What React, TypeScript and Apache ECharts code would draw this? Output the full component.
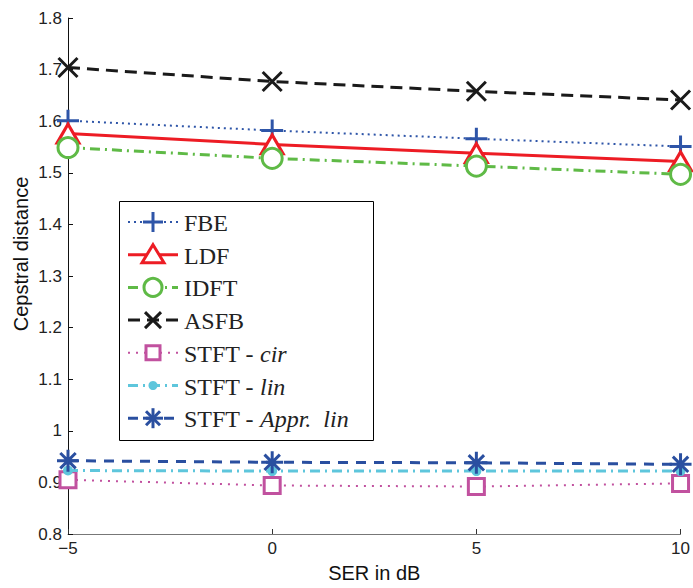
import React, { useEffect, useRef } from "react";
import * as echarts from "echarts";

// ---- data ----
const xValues = [-5, 0, 5, 10];
const fbe = [1.601, 1.582, 1.566, 1.551];
const ldf = [1.576, 1.555, 1.538, 1.522];
const idft = [1.549, 1.528, 1.513, 1.497];
const asfb = [1.704, 1.677, 1.658, 1.641];
const stftCir = [0.905, 0.894, 0.892, 0.898];
const stftLin = [0.923, 0.922, 0.922, 0.922];
const stftAppr = [0.942, 0.939, 0.938, 0.935];
const seriesNames = ["FBE", "LDF", "IDFT", "ASFB", "STFT - cir", "STFT - lin", "STFT - Appr. lin"];
const legendLabels = ["FBE", "LDF", "IDFT", "ASFB", "STFT - {i|cir}", "STFT - {i|lin}", "STFT - {i|Appr.  lin}"];
const seriesValues = [fbe, ldf, idft, asfb, stftCir, stftLin, stftAppr];
const xAxisTitle = "SER in dB";
const yAxisTitle = "Cepstral distance";

// ---- styles ----
type Sty = { color: string; dash: number[] | null; width: number; marker: string; size: number | number[] };
const styles: Sty[] = [
  { color: "#2e55a8", dash: [2, 4], width: 2, marker: "plus", size: 22 },
  { color: "#ed1c24", dash: null, width: 3, marker: "tri", size: [22, 19] },
  { color: "#5fba46", dash: [10, 5, 2, 5], width: 3, marker: "circle", size: 20 },
  { color: "#1a1a1a", dash: [12, 7], width: 3, marker: "cross", size: 19 },
  { color: "#c1519f", dash: [2, 6], width: 2, marker: "square", size: 16 },
  { color: "#5ec6dc", dash: [10, 5, 2, 5], width: 3, marker: "dot", size: 10 },
  { color: "#2a4fa0", dash: [10, 8], width: 3, marker: "star", size: 22 },
];

const symbolFor: Record<string, string> = {
  plus: "path://M10 0L10 20M0 10L20 10",
  cross: "path://M0 0L20 20M0 20L20 0",
  star: "path://M10 0L10 20M0 10L20 10M3 3L17 17M3 17L17 3",
  tri: "path://M10 0L20 18L0 18Z",
  circle: "circle",
  square: "rect",
  dot: "circle",
};

function markerGraphic(kind: string, cx: number, cy: number, color: string): any[] {
  const st = { stroke: color, lineWidth: 3, fill: "#fff" };
  const ln = (x1: number, y1: number, x2: number, y2: number) => ({
    type: "line",
    shape: { x1, y1, x2, y2 },
    style: { stroke: color, lineWidth: 3 },
    z: 101,
  });
  switch (kind) {
    case "plus":
      return [ln(cx - 10, cy, cx + 10, cy), ln(cx, cy - 10, cx, cy + 10)];
    case "cross":
      return [ln(cx - 8, cy - 8, cx + 8, cy + 8), ln(cx - 8, cy + 8, cx + 8, cy - 8)];
    case "star":
      return [
        ln(cx - 10, cy, cx + 10, cy),
        ln(cx, cy - 10, cx, cy + 10),
        ln(cx - 7, cy - 7, cx + 7, cy + 7),
        ln(cx - 7, cy + 7, cx + 7, cy - 7),
      ];
    case "tri":
      return [{ type: "polygon", shape: { points: [[cx, cy - 10], [cx + 11, cy + 8], [cx - 11, cy + 8]] }, style: st, z: 101 }];
    case "circle":
      return [{ type: "circle", shape: { cx, cy, r: 9 }, style: st, z: 101 }];
    case "square":
      return [{ type: "rect", shape: { x: cx - 7, y: cy - 7, width: 14, height: 14 }, style: st, z: 101 }];
    case "dot":
      return [{ type: "circle", shape: { cx, cy, r: 4.5 }, style: { fill: color }, z: 101 }];
  }
  return [];
}

export default function App() {
  const ref = useRef<HTMLDivElement>(null);
  useEffect(() => {
    document.body.style.margin = "0";
    const chart = echarts.init(ref.current!, null, { renderer: "svg" });

    const series = seriesNames.map((name, k) => {
      const s = styles[k];
      const stroked = ["plus", "cross", "star"].includes(s.marker);
      const itemStyle =
        s.marker === "dot"
          ? { color: s.color }
          : stroked
          ? { color: "transparent", borderColor: s.color, borderWidth: 3 }
          : { color: "#fff", borderColor: s.color, borderWidth: 3 };
      return {
        name,
        type: "line",
        data: xValues.map((x, i) => [x, seriesValues[k][i]]),
        symbol: symbolFor[s.marker],
        symbolSize: s.size,
        showSymbol: true,
        showAllSymbol: true,
        clip: false,
        lineStyle: { color: s.color, width: s.width, type: s.dash ? s.dash : "solid" },
        itemStyle,
        emphasis: { disabled: true },
        z: 2 + k,
      };
    });

    const lx0 = 128, lx1 = 178, mx = 153, ly0 = 222, step = 32.7, tx = 184;
    const legendEls: any[] = [
      {
        type: "rect",
        shape: { x: 119.5, y: 201.5, width: 254, height: 239 },
        style: { fill: "#fff", stroke: "#000", lineWidth: 1 },
        z: 99,
      },
    ];
    styles.forEach((s, k) => {
      const y = ly0 + k * step;
      legendEls.push({
        type: "line",
        shape: { x1: lx0, y1: y, x2: lx1, y2: y },
        style: { stroke: s.color, lineWidth: s.width, lineDash: s.dash || undefined },
        z: 100,
      });
      legendEls.push(...markerGraphic(s.marker, mx, y, s.color));
      legendEls.push({
        type: "text",
        x: tx,
        y: y + 1,
        style: {
          text: legendLabels[k],
          fill: "#222",
          fontFamily: "Liberation Serif",
          fontSize: 24,
          verticalAlign: "middle",
          align: "left",
          rich: { i: { fontStyle: "italic", fontFamily: "Liberation Serif", fontSize: 24 } },
        },
        z: 101,
      });
    });
    legendEls.push({
      type: "text",
      x: 21,
      y: 254,
      rotation: Math.PI / 2,
      style: {
        text: yAxisTitle,
        fill: "#111",
        fontFamily: "Liberation Sans",
        fontSize: 20,
        align: "center",
        verticalAlign: "middle",
      },
    });

    chart.setOption({
      animation: false,
      backgroundColor: "#fff",
      grid: { left: 68, right: 10, top: 18, bottom: 48 },
      xAxis: {
        type: "value",
        min: -5,
        max: 10,
        interval: 5,
        name: xAxisTitle,
        nameLocation: "middle",
        nameGap: 29,
        nameTextStyle: { fontFamily: "Liberation Sans", fontSize: 20, color: "#111" },
        axisLine: { show: true, onZero: false, lineStyle: { color: "#777", width: 1 } },
        axisTick: { show: true, inside: true, length: 5, lineStyle: { color: "#333" } },
        axisLabel: {
          color: "#222",
          fontFamily: "Liberation Sans",
          fontSize: 17,
          margin: 6,
          formatter: (v: number) => (v < 0 ? "\u2212" + Math.abs(v) : String(v)),
        },
        splitLine: { show: false },
      },
      yAxis: {
        type: "value",
        min: 0.8,
        max: 1.8,
        interval: 0.1,
        axisLine: { show: true, onZero: false, lineStyle: { color: "#111", width: 1 } },
        axisTick: { show: true, inside: true, length: 5, lineStyle: { color: "#111" } },
        axisLabel: {
          color: "#222",
          fontFamily: "Liberation Sans",
          fontSize: 17,
          margin: 6,
          formatter: (v: number) => String(Math.round(v * 10) / 10),
        },
        splitLine: { show: false },
      },
      series,
      graphic: legendEls,
    });
    return () => chart.dispose();
  }, []);
  return <div ref={ref} style={{ width: 693, height: 588 }} />;
}
